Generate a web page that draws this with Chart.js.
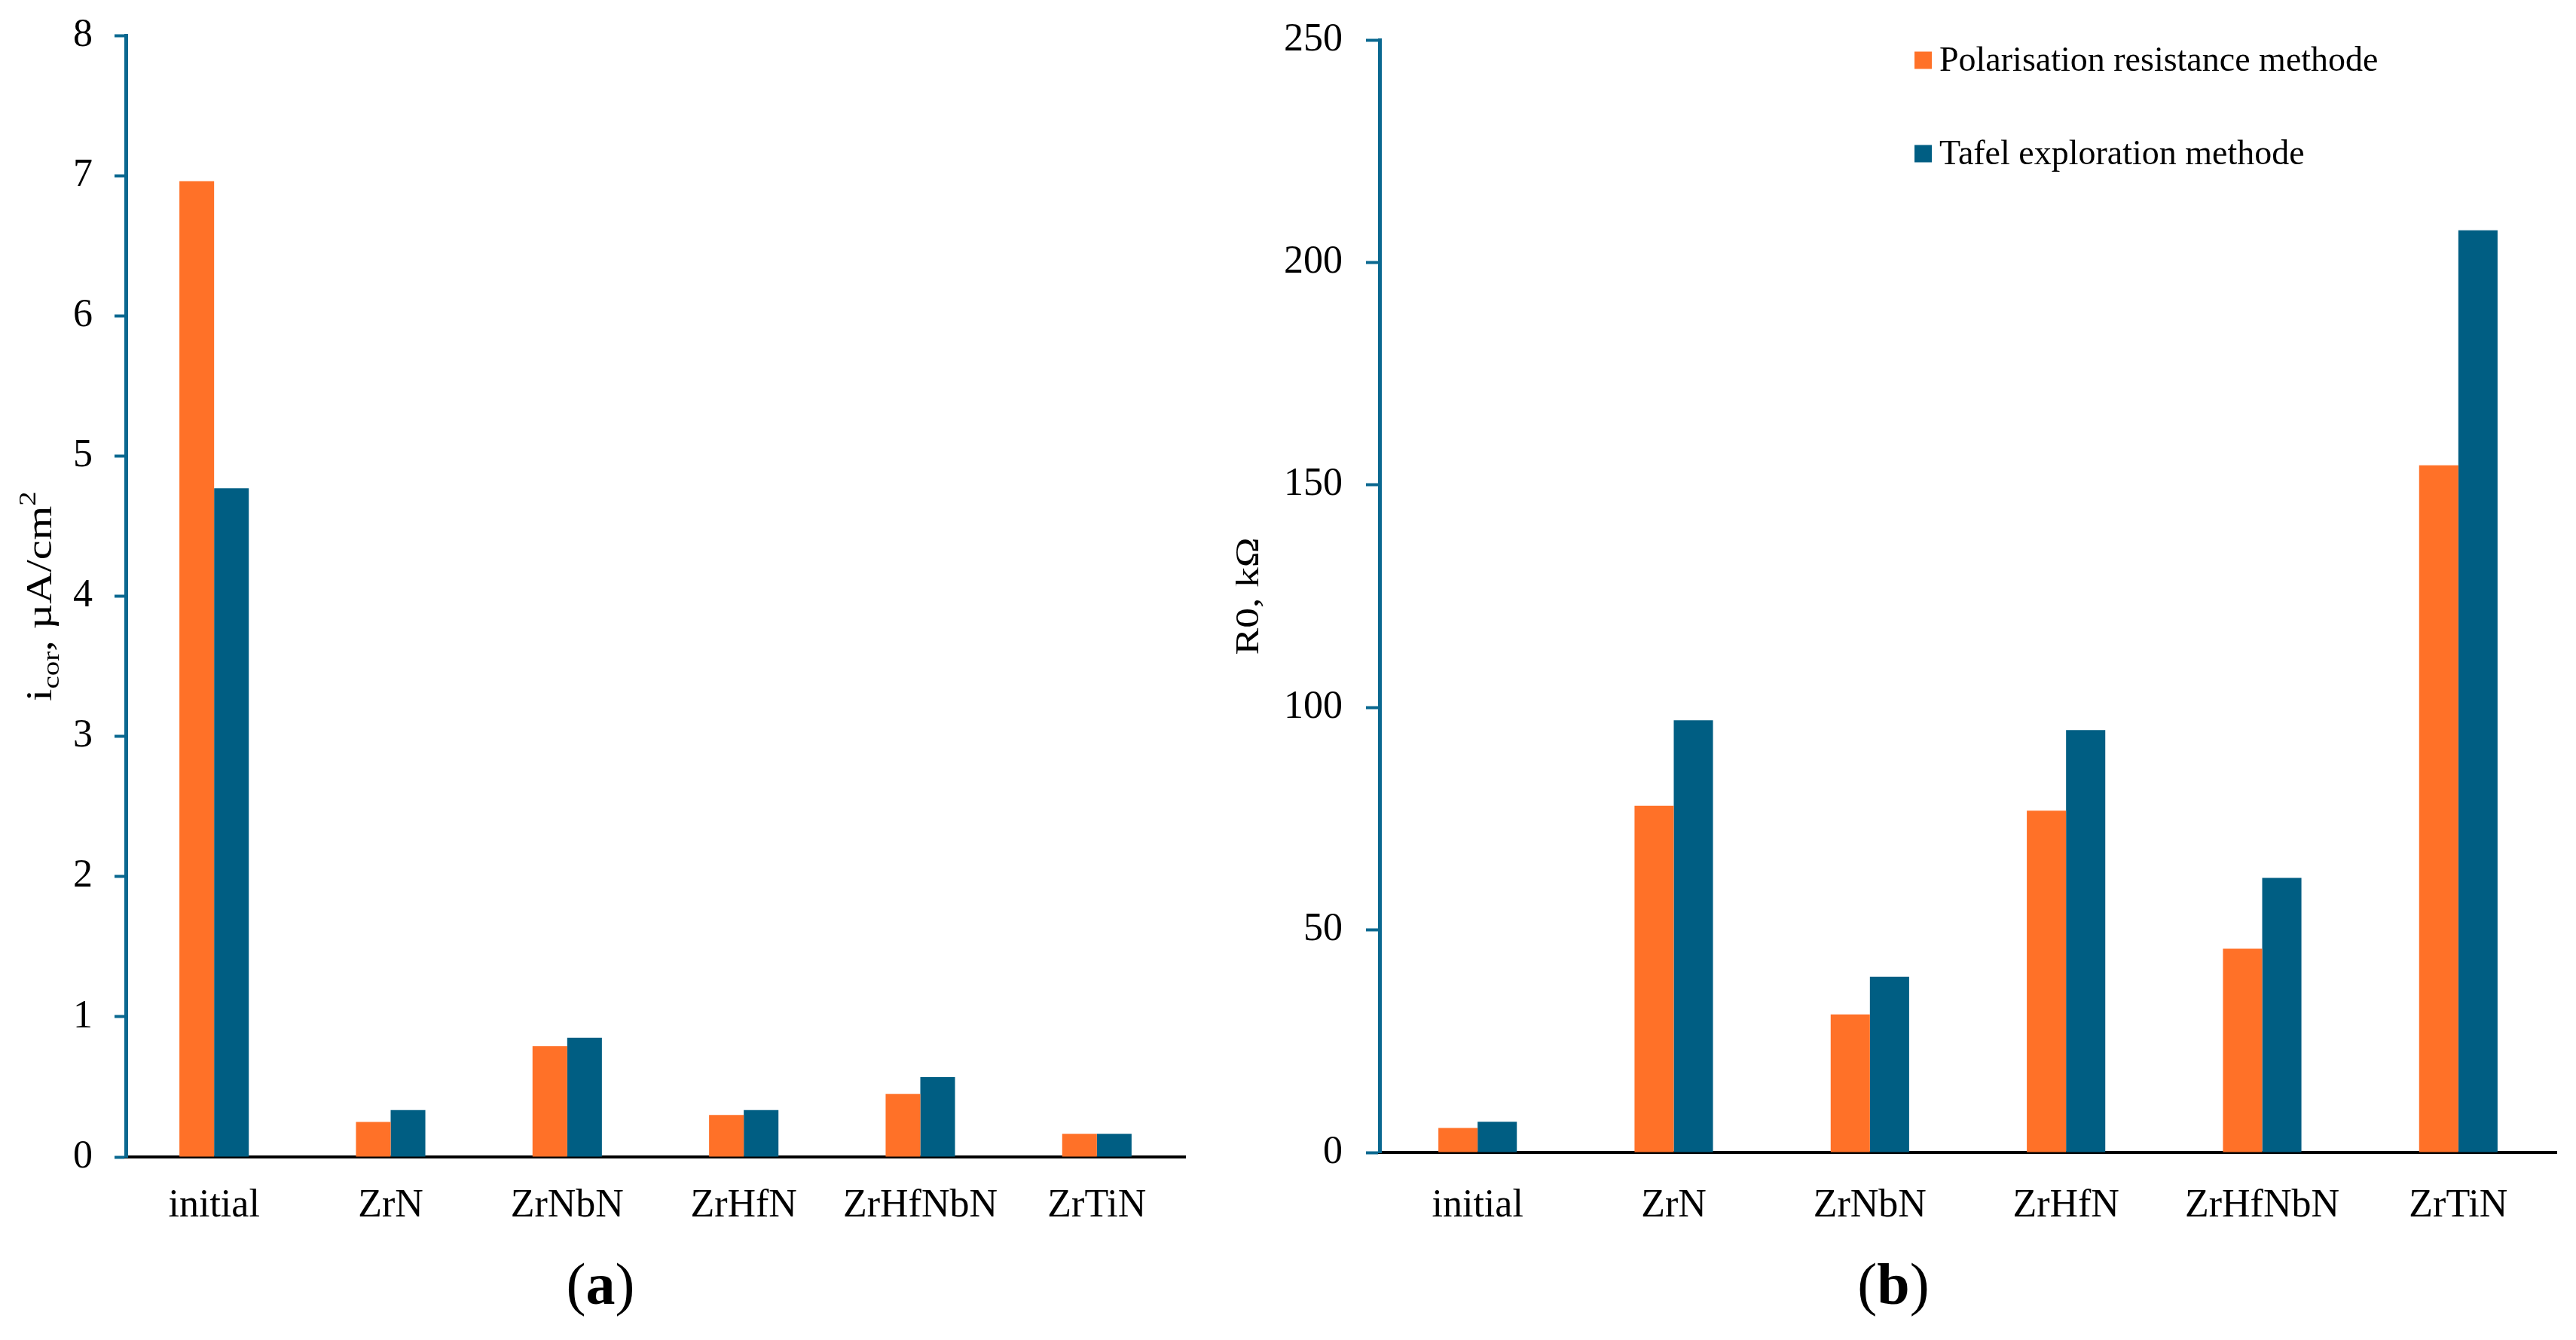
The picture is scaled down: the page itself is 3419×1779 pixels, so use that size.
<!DOCTYPE html>
<html>
<head>
<meta charset="utf-8">
<script src="https://cdn.jsdelivr.net/npm/chart.js@4.4.1/dist/chart.umd.min.js"></script>
<style>
  html, body { margin: 0; padding: 0; background: #fff; overflow: hidden; }
  #wrap { position: relative; width: 3419px; height: 1779px; }
  canvas { position: absolute; top: 0; }
  #icor { left: 0; }
  #r0 { left: 1640px; }
</style>
</head>
<body>
<div id="wrap">
  <canvas id="icor" width="1640" height="1779"></canvas>
  <canvas id="r0" width="1779" height="1779"></canvas>
</div>
<script>
const categories = ["initial", "ZrN", "ZrNbN", "ZrHfN", "ZrHfNbN", "ZrTiN"];
const seriesNames = ["Polarisation resistance methode", "Tafel exploration methode"];

// (a) corrosion current density, µA/cm²
const icorPolarisation = [6.96, 0.25, 0.79, 0.30, 0.45, 0.165];
const icorTafel = [4.77, 0.335, 0.85, 0.335, 0.57, 0.165];
const icorTicks = [0, 1, 2, 3, 4, 5, 6, 7, 8];

// (b) polarisation resistance, kΩ
const r0Polarisation = [5.5, 77.9, 31.0, 76.8, 45.8, 154.4];
const r0Tafel = [6.9, 97.1, 39.5, 94.9, 61.7, 207.2];
const r0Ticks = [0, 50, 100, 150, 200, 250];

const ORANGE = "#FF7128";
const BLUE = "#005E83";
const AXIS_BLUE = "#0A6890";
const SERIF = '"Liberation Serif", "Times New Roman", serif';

Chart.defaults.font.family = SERIF;
Chart.defaults.color = "#000";

// rotated y title with sub/superscripts (stretched a bit along the text)
const richYTitle = {
	id: "richYTitle",
	afterDraw(chart, args, opts) {
		const { ctx, chartArea } = chart;
		const cy = (chartArea.top + chartArea.bottom) / 2;
		ctx.save();
		ctx.translate(opts.x, cy);
		ctx.rotate(-Math.PI / 2);
		ctx.scale(opts.stretch, 1);
		ctx.fillStyle = "#000";
		ctx.textBaseline = "alphabetic";
		ctx.textAlign = "left";
		let total = 0;
		opts.parts.forEach(p => {
			ctx.font = p.size + "px " + SERIF;
			total += ctx.measureText(p.t).width;
		});
		let u = -total / 2;
		opts.parts.forEach(p => {
			ctx.font = p.size + "px " + SERIF;
			ctx.fillText(p.t, u, p.dy || 0);
			u += ctx.measureText(p.t).width;
		});
		ctx.restore();
	},
};

// "(a)" / "(b)" under each panel, letter in bold
const panelLabel = {
	id: "panelLabel",
	afterDraw(chart, args, opts) {
		const { ctx } = chart;
		const parts = [
			{ t: "(", f: "78px " + SERIF },
			{ t: opts.letter, f: "bold 78px " + SERIF },
			{ t: ")", f: "78px " + SERIF },
		];
		ctx.save();
		ctx.fillStyle = "#000";
		ctx.textBaseline = "alphabetic";
		ctx.textAlign = "left";
		let w = 0;
		parts.forEach(p => {
			ctx.font = p.f;
			w += ctx.measureText(p.t).width;
		});
		let x = opts.x - w / 2;
		parts.forEach(p => {
			ctx.font = p.f;
			ctx.fillText(p.t, x, opts.y);
			x += ctx.measureText(p.t).width;
		});
		ctx.restore();
	},
};

// legend sitting inside the plot area
const insideLegend = {
	id: "insideLegend",
	afterDraw(chart, args, opts) {
		if (!opts.show) return;
		const { ctx } = chart;
		ctx.save();
		ctx.font = "46px " + SERIF;
		ctx.textBaseline = "middle";
		ctx.textAlign = "left";
		chart.data.datasets.forEach((ds, i) => {
			const y = opts.y + i * opts.rowGap;
			ctx.fillStyle = ds.backgroundColor;
			ctx.fillRect(opts.x, y - opts.box / 2, opts.box, opts.box);
			ctx.fillStyle = "#000";
			ctx.fillText(ds.label, opts.x + opts.box + 10, y + 2);
		});
		ctx.restore();
	},
};

const makeChart = (id, s) => {
	new Chart(document.getElementById(id), {
		type: "bar",
		plugins: [richYTitle, panelLabel, insideLegend],
		data: {
			labels: categories,
			datasets: [
				{
					label: seriesNames[0],
					data: s.first,
					backgroundColor: ORANGE,
					borderWidth: 0,
					categoryPercentage: s.catPct,
					barPercentage: 1,
				},
				{
					label: seriesNames[1],
					data: s.second,
					backgroundColor: BLUE,
					borderWidth: 0,
					categoryPercentage: s.catPct,
					barPercentage: 1,
				},
			],
		},
		options: {
			responsive: false,
			devicePixelRatio: 1,
			animation: false,
			layout: {
				padding: { left: 0, right: s.padRight, top: s.padTop, bottom: 0 },
			},
			plugins: {
				legend: { display: false },
				tooltip: { enabled: false },
				richYTitle: { x: s.titleX, parts: s.titleParts, stretch: 1.22 },
				panelLabel: { letter: s.letter, x: s.letterX, y: 1731 },
				insideLegend: { show: s.legend, x: 901, y: 80, box: 23, rowGap: 124 },
			},
			scales: {
				x: {
					afterFit: scale => {
						scale.height = s.xHeight;
					},
					grid: { display: false, drawTicks: false },
					border: { display: true, color: "#000", width: 4 },
					ticks: {
						font: { size: 52 },
						color: "#000",
						padding: s.xPad,
						maxRotation: 0,
					},
				},
				y: {
					min: s.ticks[0],
					max: s.ticks[s.ticks.length - 1],
					afterFit: scale => {
						scale.width = s.yWidth;
						scale.paddingTop = 0;
						scale.paddingBottom = 0;
					},
					grid: {
						drawOnChartArea: false,
						drawTicks: true,
						tickLength: s.tickLen,
						tickWidth: 4,
						tickColor: AXIS_BLUE,
					},
					border: { display: true, color: AXIS_BLUE, width: 5 },
					ticks: {
						stepSize: s.ticks[1] - s.ticks[0],
						font: { size: 52 },
						color: "#000",
						padding: s.yPad,
					},
				},
			},
		},
	});
};

makeChart("icor", {
	first: icorPolarisation,
	second: icorTafel,
	ticks: icorTicks,
	catPct: 0.393,
	padRight: 67,
	padTop: 47,
	xHeight: 243,
	yWidth: 167,
	xPad: 34,
	yPad: 29,
	tickLen: 15,
	titleX: 68,
	titleParts: [
		{ t: "i", size: 48 },
		{ t: "cor", size: 32, dy: 10 },
		{ t: ", µA/cm", size: 48 },
		{ t: "2", size: 32, dy: -21 },
	],
	letter: "a",
	letterX: 797,
	legend: false,
});

makeChart("r0", {
	first: r0Polarisation,
	second: r0Tafel,
	ticks: r0Ticks,
	catPct: 0.40,
	padRight: 26,
	padTop: 53,
	xHeight: 249,
	yWidth: 191,
	xPad: 40,
	yPad: 31,
	tickLen: 18,
	titleX: 30,
	titleParts: [{ t: "R0, kΩ", size: 44 }],
	letter: "b",
	letterX: 873,
	legend: true,
});
</script>
</body>
</html>
